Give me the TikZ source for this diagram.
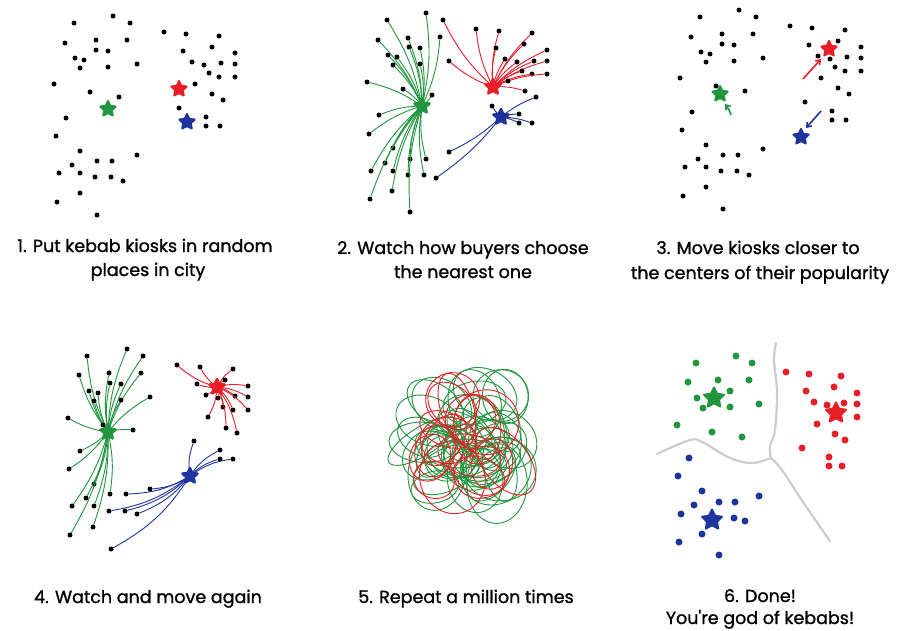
\documentclass[tikz,border=0pt]{standalone}
\usepackage{fontspec}
\newfontfamily\hand{Poppins}[FakeBold=1.2]
\usetikzlibrary{shapes.geometric,arrows.meta}
\definecolor{kgreen}{RGB}{34,150,62}
\definecolor{kred}{RGB}{232,30,40}
\definecolor{kblue}{RGB}{30,52,156}
\definecolor{kgray}{RGB}{205,205,205}
\tikzset{
  dot/.style={circle,fill=black,inner sep=0pt,minimum size=5pt},
  bigdot/.style={circle,inner sep=0pt,minimum size=7pt},
  kiosk/.style={star,star points=5,star point ratio=2.0,inner sep=0pt,minimum size=#1,line width=2pt,line join=round},
  link/.style={line width=0.9pt},
  lbl/.style={anchor=base,inner sep=0pt,font=\hand\fontsize{17.5}{20}\selectfont},
  move/.style={line width=1.6pt,-{Straight Barb[length=4pt,width=6pt]}},
}
\def\dotsA{113/16,74/23,130/23,164/32,186/34,219/36,65/43,96/40,127/40,96/50,108/51,183/51,212/47,235/53,75/58,84/60,80/68,108/67,137/64,192/62,204/65,221/63,235/64,209/73,219/77,235/77,54/84,195/84,90/92,119/97,212/94,223/100,179/108,66/118,206/117,206/126,220/126,56/136,80/151,137/155,72/165,97/161,112/161,59/173,80/173,95/177,111/177,123/181,80/193,57/202,97/215}
\begin{document}
\begin{tikzpicture}[x=1pt,y=-1pt]
\useasboundingbox[fill=white] (0,0) rectangle (909,630);

% ---------- Panel 1 ----------
\foreach \x/\y [count=\i] in \dotsA {\node[dot] (a\i) at (\x,\y) {};}
\node[kiosk=16pt,fill=kgreen,draw=kgreen] (s1g) at (108,109) {};
\node[kiosk=16pt,fill=kred,draw=kred] (s1r) at (179,89) {};
\node[kiosk=16pt,fill=kblue,draw=kblue] (s1b) at (187,122) {};
\node[lbl] (t1a) at (145,252) {1. Put kebab kiosks in random};
\node[lbl] (t1b) at (148,276) {places in city};

% ---------- Panel 2 ----------
\node[kiosk=16pt,fill=kgreen,draw=kgreen] (s2g) at (422,106) {};
\node[kiosk=16pt,fill=kred,draw=kred] (s2r) at (493,87) {};
\node[kiosk=16pt,fill=kblue,draw=kblue] (s2b) at (501,117) {};
\foreach \x/\y [count=\i] in {426/13,387/20,440/37,378/40,408/38,409/47,420/48,388/55,397/57,393/65,420/64,367/82,403/89,432/95,379/115,369/134,393/148,426/159,410/159,385/163,371/171,393/171,408/175,424/175,392/191,370/199,410/212}
  {\node[dot] (bg\i) at (\x,\y) {}; \draw[link,kgreen] (s2g.center) to[bend right=10] (bg\i);}
\foreach \x/\y [count=\i] in {443/20,476/29,499/31,532/33,496/48,524/44,547/50,449/61,505/59,517/62,534/61,547/61,522/71,532/74,547/74,508/81,525/91}
  {\node[dot] (br\i) at (\x,\y) {}; \draw[link,kred] (s2r.center) to[bend left=10] (br\i);}
\foreach \x/\y [count=\i] in {536/97,492/106,519/114,519/123,532/123,449/152,436/178}
  {\node[dot] (bb\i) at (\x,\y) {}; \draw[link,kblue] (s2b.center) to[bend left=8] (bb\i);}
\node[kiosk=16pt,fill=kgreen,draw=kgreen] at (s2g) {};
\node[kiosk=16pt,fill=kred,draw=kred] at (s2r) {};
\node[kiosk=16pt,fill=kblue,draw=kblue] at (s2b) {};
\node[lbl] (t2a) at (463,254) {2. Watch how buyers choose};
\node[lbl] (t2b) at (463,278) {the nearest one};

% ---------- Panel 3 ----------
\begin{scope}[shift={(626,-6)}]
\foreach \x/\y [count=\i] in \dotsA {\node[dot] (c\i) at (\x,\y) {};}
\end{scope}
\node[kiosk=16pt,fill=kgreen,draw=kgreen] (s3g) at (720,94) {};
\node[kiosk=16pt,fill=kred,draw=kred] (s3r) at (829,49) {};
\node[kiosk=16pt,fill=kblue,draw=kblue] (s3b) at (801,137) {};
\coordinate (m3g) at (731,115);
\coordinate (m3r) at (803,79);
\coordinate (m3b) at (821,111);
\draw[move,kgreen] (m3g) to[bend right=10] (725,104);
\draw[move,kred] (m3r) -- (821,59);
\draw[move,kblue] (m3b) -- (806,128);
\node[lbl] (t3a) at (758,254) {3. Move kiosks closer to};
\node[lbl] (t3b) at (760,279) {the centers of their popularity};

% ---------- Panel 4 ----------
\node[kiosk=16pt,fill=kgreen,draw=kgreen] (s4g) at (108,432) {};
\node[kiosk=16pt,fill=kred,draw=kred] (s4r) at (217,387) {};
\node[kiosk=16pt,fill=kblue,draw=kblue] (s4b) at (190,476) {};
\foreach \x/\y [count=\i] in {127/349,87/356,143/356,79/375,109/373,141/373,110/383,121/384,89/391,98/393,94/401,121/400,150/397,68/418,103/425,133/430,80/451,69/469,94/484,110/494,86/498,72/506,94/506,93/527,70/535}
  {\node[dot] (dg\i) at (\x,\y) {}; \draw[link,kgreen] (s4g.center) to[bend left=10] (dg\i);}
\foreach \x/\y [count=\i] in {177/365,200/367,233/369,225/380,197/384,248/386,206/395,218/398,235/396,248/397,223/407,233/410,248/410,208/417,226/428,237/433}
  {\node[dot] (dr\i) at (\x,\y) {}; \draw[link,kred] (s4r.center) to[bend left=12] (dr\i);}
\foreach \x/\y [count=\i] in {194/441,220/450,220/459,233/459,150/489,126/494,109/511,125/511,137/514,111/549}
  {\node[dot] (db\i) at (\x,\y) {}; \draw[link,kblue] (s4b.center) to[bend left=14] (db\i);}
\node[kiosk=16pt,fill=kgreen,draw=kgreen] at (s4g) {};
\node[kiosk=16pt,fill=kred,draw=kred] at (s4r) {};
\node[kiosk=16pt,fill=kblue,draw=kblue] at (s4b) {};
\node[lbl] (t4) at (148,603) {4. Watch and move again};

% ---------- Panel 5 ----------
\pgfmathsetseed{11}
\foreach \i in {1,...,42}{
  \pgfmathsetmacro\cx{466+44*rand}
  \pgfmathsetmacro\cy{440+48*rand}
  \pgfmathsetmacro\rx{18+24*rnd}
  \pgfmathsetmacro\ry{14+22*rnd}
  \pgfmathsetmacro\ang{180*rnd}
  \draw[kgreen,line width=0.9pt,shift={(\cx,\cy)},rotate=\ang] (0,0) ellipse ({\rx} and {\ry});
}
\foreach \i in {1,...,18}{
  \pgfmathsetmacro\cx{466+42*rand}
  \pgfmathsetmacro\cy{438+44*rand}
  \pgfmathsetmacro\rx{18+22*rnd}
  \pgfmathsetmacro\ry{14+20*rnd}
  \pgfmathsetmacro\ang{180*rnd}
  \draw[kred,line width=0.9pt,shift={(\cx,\cy)},rotate=\ang] (0,0) ellipse ({\rx} and {\ry});
}
\node[lbl] (t5) at (466,603) {5. Repeat a million times};

% ---------- Panel 6 ----------
\coordinate (j6) at (771,458);
\draw[kgray,line width=2.2pt,line cap=round] plot[smooth,tension=0.6] coordinates {(776,343) (774,360) (777,392) (775,430) (770,446) (771,458)};
\draw[kgray,line width=2.2pt,line cap=round] plot[smooth,tension=0.6] coordinates {(657,454) (690,440) (704,443) (730,458) (752,463) (771,458)};
\draw[kgray,line width=2.2pt,line cap=round] plot[smooth,tension=0.6] coordinates {(771,458) (782,470) (803,502) (830,541)};
\foreach \x/\y [count=\i] in {736/356,696/363,752/363,688/382,718/380,749/380,730/391,697/398,703/408,730/407,759/404,677/425,712/432,742/437}
  {\node[bigdot,fill=kgreen] (eg\i) at (\x,\y) {};}
\foreach \x/\y [count=\i] in {786/372,809/374,841/376,834/387,806/391,857/393,814/402,827/405,844/403,857/404,857/417,817/424,835/434,845/440,802/448,829/457,829/466,842/466}
  {\node[bigdot,fill=kred] (er\i) at (\x,\y) {};}
\foreach \x/\y [count=\i] in {689/458,678/476,702/491,759/496,694/505,719/502,735/502,681/514,734/518,745/521,702/534,679/542,719/555}
  {\node[bigdot,fill=kblue] (eb\i) at (\x,\y) {};}
\node[kiosk=21pt,fill=kgreen,draw=kgreen] (s6g) at (714,398) {};
\node[kiosk=21pt,fill=kred,draw=kred] (s6r) at (836,413) {};
\node[kiosk=21pt,fill=kblue,draw=kblue] (s6b) at (712,520) {};
\node[lbl] (t6a) at (760,602) {6. Done!};
\node[lbl] (t6b) at (760,624) {You're god of kebabs!};
\end{tikzpicture}
\end{document}
